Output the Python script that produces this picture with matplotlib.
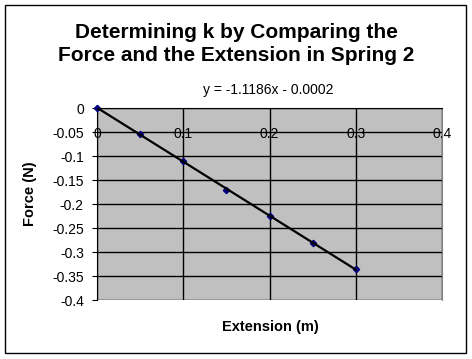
import numpy as np
import matplotlib
matplotlib.use('Agg')
import matplotlib.pyplot as plt
from matplotlib import patches

plt.rcParams['font.family'] = ['Liberation Sans', 'DejaVu Sans']

# Spring 2 data
extension = [0.0, 0.05, 0.10, 0.15, 0.20, 0.25, 0.30]
force = [0.0, -0.054, -0.110, -0.171, -0.225, -0.281, -0.335]
eq_label = 'y = -1.1186x - 0.0002'
x_ticks = [0, 0.1, 0.2, 0.3, 0.4]
x_tick_labels = ['0', '0.1', '0.2', '0.3', '0.4']
y_ticks = [0, -0.05, -0.1, -0.15, -0.2, -0.25, -0.3, -0.35, -0.4]
y_tick_labels = ['0', '-0.05', '-0.1', '-0.15', '-0.2', '-0.25', '-0.3', '-0.35', '-0.4']

fig = plt.figure(figsize=(4.72, 3.59), dpi=100)
ax = fig.add_axes([97 / 472, 1 - 300 / 359, 345 / 472, 192 / 359])
ax.set_facecolor('#c0c0c0')

# Trendline from linear fit
slope, icpt = np.polyfit(extension, force, 1)
xs = np.array([0.0, 0.3])
ax.plot(extension, force, linestyle='none', marker='D', markersize=3.2,
        color='#000080', zorder=3, clip_on=False)
ax.plot(xs, slope * xs + icpt, color='black', linewidth=1.6, zorder=4)

ax.set_xlim(0, 0.4)
ax.set_ylim(-0.4, 0)
ax.set_xticks(x_ticks)
ax.set_xticklabels(x_tick_labels)
ax.set_yticks(y_ticks)
ax.set_yticklabels(y_tick_labels)
ax.grid(True, color='black', linewidth=1)

# x-axis crosses at y = 0 (top of plot area)
ax.spines['bottom'].set_position(('data', 0))
ax.spines['top'].set_visible(False)
ax.spines['right'].set_color('#808080')
ax.spines['left'].set_color('black')
ax.tick_params(axis='x', length=0, pad=14, labelsize=10)
ax.tick_params(axis='y', direction='out', length=3.5, pad=6, labelsize=10)

fig.text(236 / 472, 1 - 44 / 359,
         'Determining k by Comparing the\nForce and the Extension in Spring 2',
         ha='center', va='center', fontsize=15, fontweight='bold',
         linespacing=1.25)
fig.text(268 / 472, 1 - 90 / 359, eq_label, ha='center', va='center',
         fontsize=10)
fig.text(270 / 472, 1 - 327 / 359, 'Extension (m)', ha='center',
         va='center', fontsize=10.5, fontweight='bold')
fig.text(30 / 472, 1 - 194 / 359, 'Force (N)', ha='center', va='center',
         rotation=90, fontsize=10.5, fontweight='bold')

# Chart border
fig.patches.append(patches.Rectangle((5 / 472, 1 - 352.5 / 359),
                                     461 / 472, 347.5 / 359,
                                     transform=fig.transFigure, fill=False,
                                     edgecolor='black', linewidth=1))

fig.savefig('out.png', dpi=100)
